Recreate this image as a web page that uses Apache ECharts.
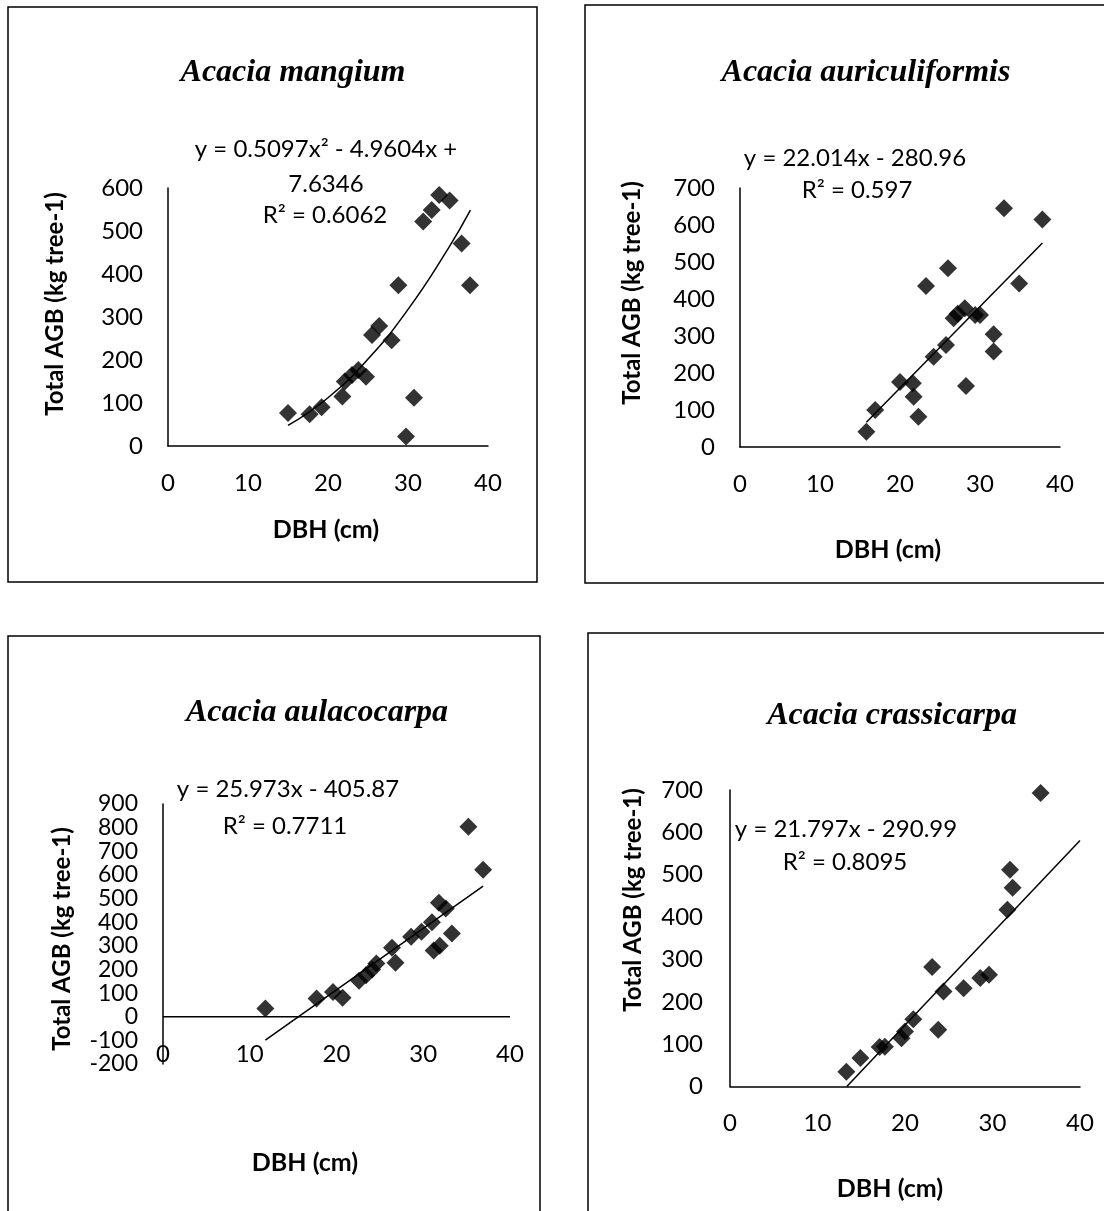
<!DOCTYPE html>
<html>
<head>
<meta charset="utf-8">
<script src="https://cdn.jsdelivr.net/npm/echarts@6/dist/echarts.min.js"></script>
<style>
  html, body { margin: 0; padding: 0; background: #fff; }
  #chart { width: 1104px; height: 1211px; }
</style>
</head>
<body>
<div id="chart"></div>
<script>
// values (DBH in cm, AGB in kg per tree)
const dbhMangium = [15.0, 17.7, 19.2, 21.8, 22.1, 23.0, 23.8, 24.75, 25.5, 26.4, 27.95, 28.8, 29.75, 30.75, 31.9, 32.96, 33.9, 35.2, 36.7, 37.75]
const agbMangium = [77, 74, 90, 115, 150, 165, 177, 161, 258, 279, 246, 374, 22, 112, 522, 549, 584, 571, 471, 374]

const dbhAuric = [15.8, 16.9, 20.0, 21.6, 21.7, 22.3, 23.25, 24.2, 25.75, 26.0, 26.7, 27.2, 28.1, 28.25, 29.4, 30.0, 31.7, 31.7, 33.0, 34.9, 37.8]
const agbAuric = [41, 100, 176, 172, 136, 82, 435, 244, 276, 483, 348, 360, 375, 165, 357, 357, 305, 258, 645, 442, 615]

const dbhAulaco = [11.8, 17.7, 19.6, 20.7, 22.6, 23.4, 24.1, 24.6, 26.4, 26.8, 28.6, 29.8, 31.0, 31.2, 31.8, 31.9, 32.6, 33.3, 35.2, 36.9]
const agbAulaco = [35, 77, 105, 80, 152, 176, 200, 225, 292, 228, 338, 360, 400, 280, 482, 300, 458, 352, 804, 622]

const dbhCrassi = [13.3, 14.9, 17.1, 17.7, 19.6, 20.0, 20.95, 23.1, 23.8, 24.4, 26.7, 28.6, 29.6, 31.7, 32.3, 32.0, 35.5]
const agbCrassi = [35, 67, 93, 94, 114, 130, 159, 282, 134, 224, 232, 256, 264, 417, 469, 512, 693]

// trendline points as drawn (taken from the printed equations)
const trendMangiumX = [15, 20, 25, 30, 35, 37.8]
const trendMangiumY = [47.9, 112.3, 202.2, 317.6, 458.4, 548.4]
const trendAuricX = [15.8, 37.8]
const trendAuricY = [66.9, 551.2]
const trendAulacoX = [11.8, 36.9]
const trendAulacoY = [-99.4, 552.5]
const trendCrassiX = [13.35, 40]
const trendCrassiY = [0, 580.9]

const xTicks = [0, 10, 20, 30, 40]

const titles = ['Acacia mangium', 'Acacia auriculiformis', 'Acacia aulacocarpa', 'Acacia crassicarpa']
const equations = [
  ['y = 0.5097x² - 4.9604x +', '7.6346', 'R² = 0.6062'],
  ['y = 22.014x - 280.96', 'R² = 0.597'],
  ['y = 25.973x - 405.87', 'R² = 0.7711'],
  ['y = 21.797x - 290.99', 'R² = 0.8095']
]

const pair = (xs, ys) => xs.map((x, i) => [x, ys[i]])

const sansFont = 'Lato, "Open Sans", sans-serif'
const tickSize = 24

const grids = [
  { left: 168, top: 188, width: 320, height: 258 },
  { left: 740, top: 188, width: 320, height: 259 },
  { left: 163, top: 804, width: 347, height: 260 },
  { left: 730, top: 790, width: 350, height: 296.5 }
]
const yRanges = [[0, 600], [0, 700], [-200, 900], [0, 700]]

const axisLine = { show: true, onZero: false, lineStyle: { color: '#000', width: 1.5 } }

function makeX(i) {
  const low = i === 2
  return {
    gridIndex: i,
    type: 'value',
    min: xTicks[0],
    max: xTicks[xTicks.length - 1],
    interval: 10,
    axisLine: low ? { show: false } : axisLine,
    axisTick: { show: false },
    splitLine: { show: false },
    axisLabel: {
      color: '#000', fontSize: tickSize, fontFamily: sansFont,
      margin: low ? -22 : 25, showMinLabel: true, showMaxLabel: true, hideOverlap: false
    }
  }
}

function makeY(i) {
  const dense = i === 2
  return {
    gridIndex: i,
    type: 'value',
    min: yRanges[i][0],
    max: yRanges[i][1],
    interval: 100,
    axisLine: axisLine,
    axisTick: { show: false },
    splitLine: { show: false },
    axisLabel: {
      color: '#000', fontSize: dense ? 23 : tickSize, fontFamily: sansFont,
      lineHeight: dense ? 18 : undefined,
      margin: i === 3 ? 27 : 25, showMinLabel: true, showMaxLabel: true, hideOverlap: false
    }
  }
}

function scatter(i, xs, ys) {
  return {
    type: 'scatter',
    xAxisIndex: i,
    yAxisIndex: i,
    data: pair(xs, ys),
    symbol: 'diamond',
    symbolSize: 18,
    itemStyle: { color: '#000' },
    z: 3
  }
}

function trend(i, xs, ys, smooth) {
  return {
    type: 'line',
    xAxisIndex: i,
    yAxisIndex: i,
    data: pair(xs, ys),
    smooth: smooth,
    showSymbol: false,
    lineStyle: { color: '#000', width: 1.5 },
    z: 2
  }
}

// frames, titles, axis names and equation labels
const frames = [
  { x: 8, y: 7, width: 529, height: 575 },
  { x: 585, y: 5, width: 530, height: 578 },
  { x: 8, y: 636, width: 532, height: 590 },
  { x: 588, y: 633, width: 530, height: 590 }
]
const titlePos = [[293, 73], [866, 73], [317, 713], [892, 716]]
const yNamePos = [[55, 304], [632, 293], [62, 939], [633, 900]]
const xNamePos = [[326, 530], [888, 550], [305, 1163], [890, 1189]]
const eqPos = [
  [[326, 149], [326, 184], [325, 215]],
  [[855, 158], [857, 190]],
  [[288, 789], [285, 826]],
  [[846, 829], [845, 862]]
]

const graphic = []
frames.forEach(f => {
  graphic.push({
    type: 'rect',
    shape: f,
    style: { fill: null, stroke: '#000', lineWidth: 1.5 },
    silent: true
  })
})
titles.forEach((t, i) => {
  graphic.push({
    type: 'text',
    x: titlePos[i][0],
    y: titlePos[i][1],
    style: {
      text: t,
      fontFamily: '"Liberation Serif", "Times New Roman", serif',
      fontStyle: 'italic',
      fontWeight: 'bold',
      fontSize: 32,
      fill: '#000',
      align: 'center',
      verticalAlign: 'middle'
    }
  })
})
yNamePos.forEach(p => {
  graphic.push({
    type: 'text',
    x: p[0],
    y: p[1],
    rotation: Math.PI / 2,
    style: {
      text: 'Total AGB (kg tree-1)',
      fontFamily: sansFont,
      fontWeight: 'bold',
      fontSize: 24,
      fill: '#000',
      align: 'center',
      verticalAlign: 'middle'
    }
  })
})
xNamePos.forEach(p => {
  graphic.push({
    type: 'text',
    x: p[0],
    y: p[1],
    style: {
      text: 'DBH (cm)',
      fontFamily: sansFont,
      fontWeight: 'bold',
      fontSize: 25,
      fill: '#000',
      align: 'center',
      verticalAlign: 'middle'
    }
  })
})
equations.forEach((lines, i) => {
  lines.forEach((line, j) => {
    graphic.push({
      type: 'text',
      x: eqPos[i][j][0],
      y: eqPos[i][j][1],
      style: {
        text: line,
        fontFamily: sansFont,
        fontSize: 24,
        fill: '#000',
        align: 'center',
        verticalAlign: 'middle'
      }
    })
  })
})

const chart = echarts.init(document.getElementById('chart'))
chart.setOption({
  backgroundColor: '#fff',
  animation: false,
  grid: grids,
  xAxis: [0, 1, 2, 3].map(makeX),
  yAxis: [0, 1, 2, 3].map(makeY),
  series: [
    scatter(0, dbhMangium, agbMangium),
    scatter(1, dbhAuric, agbAuric),
    scatter(2, dbhAulaco, agbAulaco),
    scatter(3, dbhCrassi, agbCrassi),
    trend(0, trendMangiumX, trendMangiumY, true),
    trend(1, trendAuricX, trendAuricY, false),
    trend(2, trendAulacoX, trendAulacoY, false),
    trend(3, trendCrassiX, trendCrassiY, false),
    {
      // horizontal axis line at zero for the panel that goes below zero
      type: 'line',
      xAxisIndex: 2,
      yAxisIndex: 2,
      data: [[0, 0], [40, 0]],
      showSymbol: false,
      lineStyle: { color: '#000', width: 1.5 },
      z: 1
    }
  ],
  graphic: graphic
})
</script>
</body>
</html>
